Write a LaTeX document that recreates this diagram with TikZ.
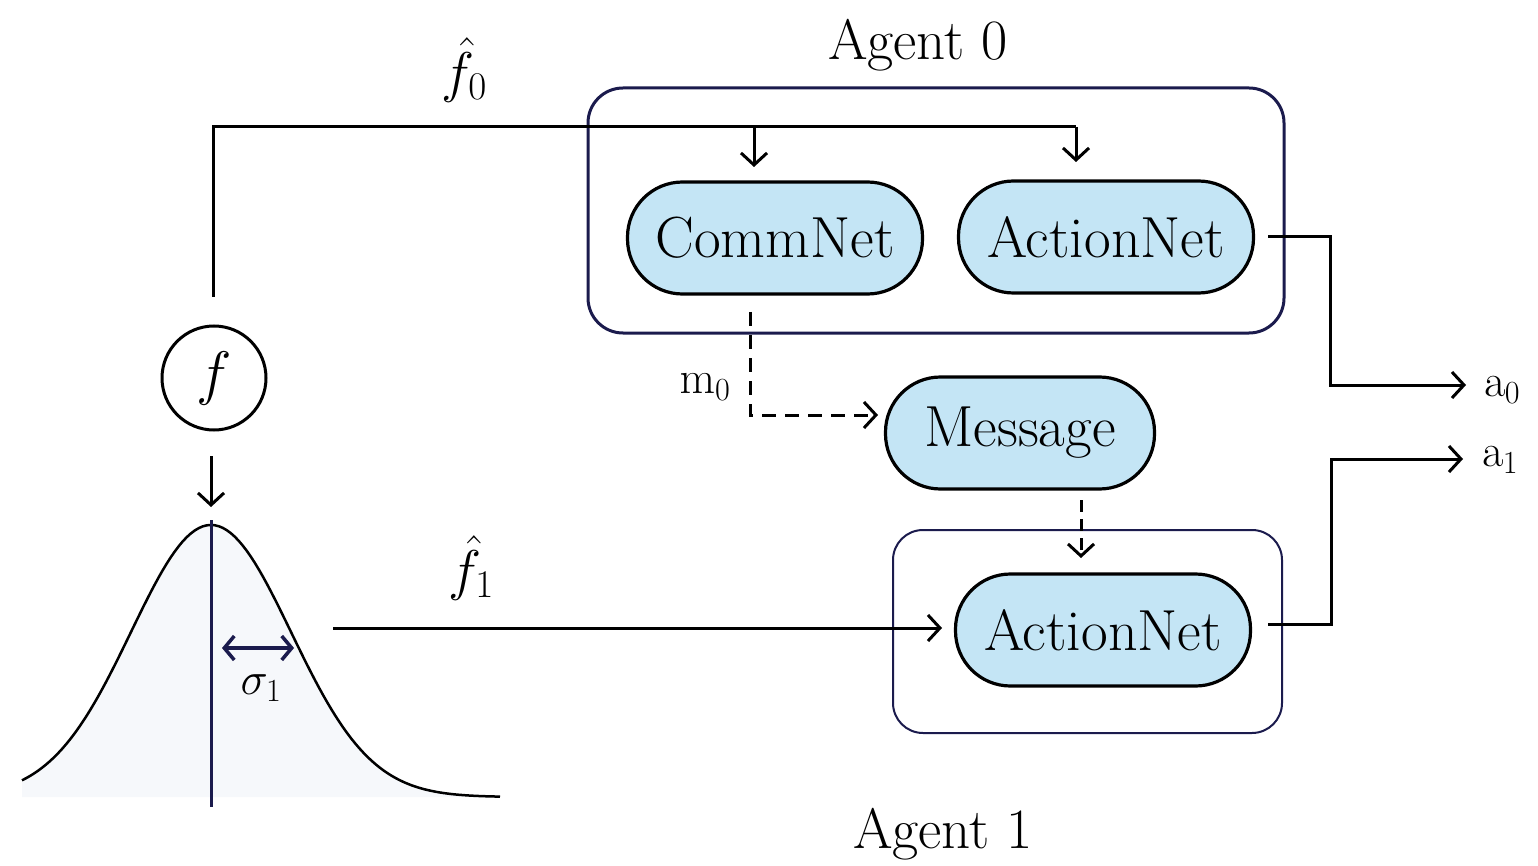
\RequirePackage{fix-cm}
\documentclass[tikz,border=0pt]{standalone}
\usetikzlibrary{arrows.meta}
\definecolor{navy}{HTML}{1B1B4D}
\definecolor{pill}{HTML}{C4E5F5}
\definecolor{gfill}{HTML}{F6F8FB}
\begin{document}
\begin{tikzpicture}[x=1pt,y=-1pt,
  pillbox/.style={draw=black, line width=3.2pt, fill=pill, rounded corners=55pt,
    minimum width=295pt, minimum height=112pt, inner sep=0pt,
    font=\fontsize{58}{66}\selectfont},
  agentbox/.style={draw=navy, rounded corners=35pt, inner sep=0pt},
  lbl/.style={inner sep=0pt, font=\fontsize{57}{66}\selectfont},
  mlbl/.style={inner sep=0pt, font=\fontsize{46}{54}\selectfont},
  hlbl/.style={inner sep=0pt, font=\fontsize{56}{64}\selectfont},
  tip/.style={-{Straight Barb[length=12pt,width=26pt,line width=3pt]}},
  conn/.style={line width=3pt, tip},
  dconn/.style={line width=3pt, tip, dash pattern=on 14pt off 9pt},
]
\useasboundingbox (0,0) rectangle (1538,866);

% Agent boxes
\node[agentbox, line width=3pt, minimum width=696pt, minimum height=245pt] (box0) at (936,210.5) {};
\node[agentbox, line width=2pt, rounded corners=30pt, minimum width=389pt, minimum height=203pt] (box1) at (1087.5,631.5) {};
\node[lbl, anchor=base] (ag0) at (918,60) {Agent 0};
\node[lbl, anchor=base] (ag1) at (943,848) {Agent 1};

% Pills
\node[pillbox] (comm) at (775,238) {CommNet};
\node[pillbox] (an0) at (1106,237) {ActionNet};
\node[pillbox, minimum width=269pt] (msg) at (1020,433) {Message};
\node[pillbox] (an1) at (1103,630) {ActionNet};

% Gaussian
\fill[gfill] (22,797) -- plot[domain=22:500, samples=120] (\x, {797 - 272*exp(-((\x-211)/80)^2/2)}) -- (500,797) -- cycle;
\draw[line width=2.5pt, line join=round] plot[domain=22:500, samples=120] (\x, {797 - 272*exp(-((\x-211)/80)^2/2)});
\draw[navy, line width=3pt] (211,520) -- (211,807);
\coordinate (sl) at (222,648);
\coordinate (sr) at (294,648);
\draw[navy, line width=3.5pt, {Straight Barb[length=10pt,width=24pt,line width=3.5pt]}-{Straight Barb[length=10pt,width=24pt,line width=3.5pt]}] (sl) -- (sr);
\node[mlbl] (sig) at (261,688) {$\sigma_1$};

% f node
\node[draw, circle, line width=3pt, minimum size=104pt, inner sep=0pt, font=\fontsize{60}{68}\selectfont] (f) at (214,378) {$f$};
\coordinate (ftop) at (213,297);
\coordinate (fbot) at (211,456);
\coordinate (peak) at (211,507);
\draw[conn] (fbot) -- (peak);

% f0 hat branch
\coordinate (turn) at (213,127);
\coordinate (j0) at (754,127);
\coordinate (j1) at (1076,127);
\coordinate (c0) at (754,167);
\coordinate (c1) at (1076,162);
\draw[line width=3pt, line join=miter] (ftop) -- (turn) -- (j1);
\draw[conn] (j0) -- (c0);
\draw[conn] (j1) -- (c1);
\node[hlbl] (f0h) at (464,70) {$\hat{f}_0$};

% f1 hat branch
\coordinate (f1s) at (333,628);
\coordinate (f1e) at (942,628);
\draw[conn] (f1s) -- (f1e);
\node[hlbl] (f1h) at (471,568) {$\hat{f}_1$};

% message path
\coordinate (m0s) at (750,312);
\coordinate (m0c) at (750,415);
\coordinate (m0e) at (878,415);
\draw[dconn] (m0s) -- (m0c) -- (m0e);
\node[mlbl] (m0) at (705,387) {$\mathrm{m}_0$};
\coordinate (ms) at (1081,500);
\coordinate (me) at (1081,558);
\draw[dconn, dash pattern=on 12pt off 7pt] (ms) -- (me);

% outputs
\coordinate (o0s) at (1268,237);
\coordinate (o0c1) at (1330,237);
\coordinate (o0c2) at (1330,385);
\coordinate (o0e) at (1466,385);
\draw[conn] (o0s) -- (o0c1) -- (o0c2) -- (o0e);
\node[mlbl] (a0) at (1502,390) {$\mathrm{a}_0$};
\coordinate (o1s) at (1268,624);
\coordinate (o1c1) at (1331,624);
\coordinate (o1c2) at (1331,459);
\coordinate (o1e) at (1463,459);
\draw[conn] (o1s) -- (o1c1) -- (o1c2) -- (o1e);
\node[mlbl] (a1) at (1500,460) {$\mathrm{a}_1$};
\end{tikzpicture}
\end{document}
